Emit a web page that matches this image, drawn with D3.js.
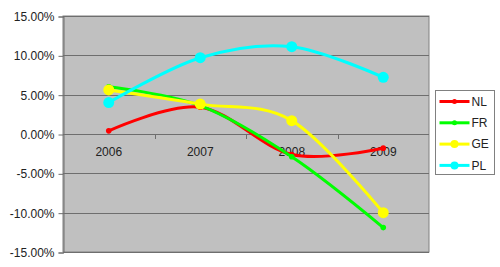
<!DOCTYPE html>
<html lang="en">
<head>
    <meta charset="UTF-8">
    <title>Growth by country</title>
    <script src="https://d3js.org/d3.v7.min.js"></script>
    <style>
        body { margin: 0; padding: 0; background: #fff; }
        svg { display: block; font-family: "Liberation Sans", Arial, sans-serif; }
    </style>
</head>
<body>
    <svg id="chart" width="500" height="267"></svg>
    <script>
        const years = ["2006", "2007", "2008", "2009"];
        const nl = [0.4, 3.4, -2.6, -1.8];
        const fr = [6.0, 3.6, -2.9, -11.9];
        const ge = [5.6, 3.8, 1.7, -10.0];
        const pl = [4.0, 9.7, 11.1, 7.2];
        const yTicks = [15, 10, 5, 0, -5, -10, -15];

        const series = [
            { name: "NL", values: nl, color: "#ff0000", r: 2.8 },
            { name: "FR", values: fr, color: "#00ff00", r: 2.8 },
            { name: "GE", values: ge, color: "#ffff00", r: 5.5 },
            { name: "PL", values: pl, color: "#00ffff", r: 5.5 }
        ];

        const svg = d3.select("#chart");
        const plot = { left: 63, top: 16, right: 429, bottom: 252 };

        const x = d3.scaleBand().domain(years).range([plot.left, plot.right]);
        const y = d3.scaleLinear().domain([-15, 15]).range([plot.bottom, plot.top]);

        // plot background
        svg.append("rect")
            .attr("x", plot.left).attr("y", plot.top)
            .attr("width", plot.right - plot.left).attr("height", plot.bottom - plot.top)
            .attr("fill", "#c0c0c0")
            .attr("stroke", "#808080").attr("stroke-width", 1);

        // gridlines
        svg.append("g").selectAll("line")
            .data(yTicks)
            .enter().append("line")
            .attr("x1", plot.left).attr("x2", plot.right)
            .attr("y1", d => Math.round(y(d)) + 0.5).attr("y2", d => Math.round(y(d)) + 0.5)
            .attr("stroke", "#6e6e6e").attr("stroke-width", 1);

        // y axis
        const yAxis = d3.axisLeft(y)
            .tickValues(yTicks)
            .tickSize(5)
            .tickFormat(d => d.toFixed(2) + "%");
        const yG = svg.append("g")
            .attr("transform", `translate(${plot.left + 0.5},0.5)`)
            .call(yAxis);
        yG.select(".domain").attr("stroke", "#6e6e6e");
        yG.selectAll(".tick line").attr("stroke", "#6e6e6e");
        yG.selectAll("text")
            .attr("fill", "#222").attr("font-size", 12)
            .attr("x", -9).attr("font-family", "Liberation Sans, Arial, sans-serif");

        // x axis along zero line
        const xAxis = d3.axisBottom(x).tickSize(0).tickPadding(13);
        const xG = svg.append("g")
            .attr("transform", `translate(0,${Math.round(y(0)) + 0.5})`)
            .call(xAxis);
        xG.select(".domain").remove();
        xG.selectAll("text")
            .attr("fill", "#222").attr("font-size", 12)
            .attr("font-family", "Liberation Sans, Arial, sans-serif");
        // category separator ticks
        svg.append("g").selectAll("line")
            .data(years.slice(1))
            .enter().append("line")
            .attr("x1", d => Math.round(x(d)) + 0.5).attr("x2", d => Math.round(x(d)) + 0.5)
            .attr("y1", Math.round(y(0))).attr("y2", Math.round(y(0)) + 5)
            .attr("stroke", "#6e6e6e");

        const line = d3.line()
            .x((d, i) => x(years[i]) + x.bandwidth() / 2)
            .y(d => y(d))
            .curve(d3.curveCatmullRom.alpha(0));

        const lines = svg.append("g");
        series.forEach(s => {
            const g = lines.append("g");
            g.append("path")
                .attr("d", line(s.values))
                .attr("fill", "none")
                .attr("stroke", s.color)
                .attr("stroke-width", 3);
            g.selectAll("circle")
                .data(s.values)
                .enter().append("circle")
                .attr("cx", (d, i) => x(years[i]) + x.bandwidth() / 2)
                .attr("cy", d => y(d))
                .attr("r", s.r)
                .attr("fill", s.color);
        });

        // legend
        const legend = svg.append("g").attr("transform", "translate(435.5,90.5)");
        legend.append("rect")
            .attr("width", 59).attr("height", 84)
            .attr("fill", "#fff").attr("stroke", "#808080");
        series.forEach((s, i) => {
            const ly = 11 + i * 21.3;
            legend.append("line")
                .attr("x1", 4).attr("x2", 34)
                .attr("y1", ly).attr("y2", ly)
                .attr("stroke", s.color).attr("stroke-width", 3);
            legend.append("circle")
                .attr("cx", 19).attr("cy", ly)
                .attr("r", s.r === 2.8 ? 2.5 : 4)
                .attr("fill", s.color);
            legend.append("text")
                .attr("x", 36).attr("y", ly)
                .attr("dy", "0.35em")
                .attr("font-size", 12)
                .attr("fill", "#222")
                .text(s.name);
        });
    </script>
</body>
</html>
